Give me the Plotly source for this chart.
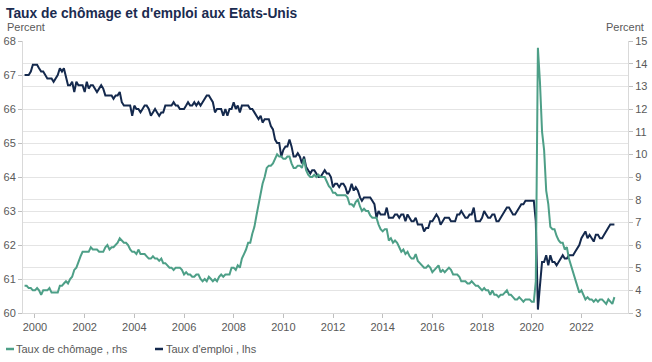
import pandas as pd
import plotly.graph_objects as go

# ---- data (monthly, Aug 1999 - May 2023) ----
start_month = "1999-08-01"

chomage_1999 = [4.2, 4.2, 4.1, 4.1, 4.0]
chomage_2000 = [4.0, 4.1, 4.0, 3.8, 4.0, 4.0, 4.0, 4.1, 3.9, 3.9, 3.9, 3.9]
chomage_2001 = [4.2, 4.2, 4.3, 4.4, 4.3, 4.5, 4.6, 4.9, 5.0, 5.3, 5.5, 5.7]
chomage_2002 = [5.7, 5.7, 5.7, 5.9, 5.8, 5.8, 5.8, 5.7, 5.7, 5.7, 5.9, 6.0]
chomage_2003 = [5.8, 5.9, 5.9, 6.0, 6.1, 6.3, 6.2, 6.1, 6.1, 6.0, 5.8, 5.7]
chomage_2004 = [5.7, 5.6, 5.8, 5.6, 5.6, 5.6, 5.5, 5.4, 5.4, 5.5, 5.4, 5.4]
chomage_2005 = [5.3, 5.4, 5.2, 5.2, 5.1, 5.0, 5.0, 4.9, 5.0, 5.0, 5.0, 4.9]
chomage_2006 = [4.7, 4.8, 4.7, 4.7, 4.6, 4.6, 4.7, 4.7, 4.5, 4.4, 4.5, 4.4]
chomage_2007 = [4.6, 4.5, 4.4, 4.5, 4.4, 4.6, 4.7, 4.6, 4.7, 4.7, 4.7, 5.0]
chomage_2008 = [5.0, 4.9, 5.1, 5.0, 5.4, 5.6, 5.8, 6.1, 6.1, 6.5, 6.8, 7.3]
chomage_2009 = [7.8, 8.3, 8.7, 9.0, 9.4, 9.5, 9.5, 9.6, 9.8, 10.0, 9.9, 9.9]
chomage_2010 = [9.8, 9.8, 9.9, 9.9, 9.6, 9.4, 9.4, 9.5, 9.5, 9.4, 9.8, 9.3]
chomage_2011 = [9.1, 9.0, 9.0, 9.1, 9.0, 9.1, 9.0, 9.0, 9.0, 8.8, 8.6, 8.5]
chomage_2012 = [8.3, 8.3, 8.2, 8.2, 8.2, 8.2, 8.2, 8.1, 7.8, 7.8, 7.7, 7.9]
chomage_2013 = [8.0, 7.7, 7.5, 7.6, 7.5, 7.5, 7.3, 7.2, 7.2, 7.2, 6.9, 6.7]
chomage_2014 = [6.6, 6.7, 6.7, 6.2, 6.3, 6.1, 6.2, 6.1, 5.9, 5.7, 5.8, 5.6]
chomage_2015 = [5.7, 5.5, 5.4, 5.4, 5.6, 5.3, 5.2, 5.1, 5.0, 5.0, 5.1, 5.0]
chomage_2016 = [4.8, 4.9, 5.0, 5.1, 4.8, 4.9, 4.8, 4.9, 5.0, 4.9, 4.7, 4.7]
chomage_2017 = [4.7, 4.6, 4.4, 4.4, 4.4, 4.3, 4.3, 4.4, 4.3, 4.2, 4.2, 4.1]
chomage_2018 = [4.0, 4.1, 4.0, 4.0, 3.8, 4.0, 3.8, 3.8, 3.7, 3.8, 3.8, 3.9]
chomage_2019 = [4.0, 3.8, 3.8, 3.7, 3.6, 3.6, 3.7, 3.6, 3.5, 3.6, 3.6, 3.6]
chomage_2020 = [3.5, 3.5, 4.4, 14.7, 13.2, 11.0, 10.2, 8.4, 7.8, 6.8, 6.7, 6.7]
chomage_2021 = [6.4, 6.2, 6.1, 6.1, 5.8, 5.9, 5.4, 5.1, 4.7, 4.5, 4.2, 3.9]
chomage_2022 = [4.0, 3.8, 3.6, 3.7, 3.6, 3.6, 3.5, 3.6, 3.5, 3.6, 3.6, 3.5]
chomage_2023 = [3.4, 3.6, 3.5, 3.4, 3.7]

emploi_1999 = [67.0, 67.0, 67.0, 67.1, 67.3]
emploi_2000 = [67.3, 67.3, 67.2, 67.1, 67.1, 67.0, 66.9, 66.9, 66.9, 66.8, 66.9, 67.0]
emploi_2001 = [67.2, 67.1, 67.2, 66.9, 66.7, 66.7, 66.8, 66.5, 66.8, 66.7, 66.7, 66.7]
emploi_2002 = [66.5, 66.8, 66.6, 66.7, 66.7, 66.6, 66.5, 66.6, 66.7, 66.6, 66.4, 66.4]
emploi_2003 = [66.4, 66.4, 66.3, 66.4, 66.4, 66.5, 66.2, 66.1, 66.1, 66.1, 66.1, 65.8]
emploi_2004 = [66.1, 66.0, 66.0, 65.9, 66.0, 66.1, 66.1, 66.0, 65.8, 65.9, 66.0, 65.9]
emploi_2005 = [65.8, 65.9, 65.9, 66.1, 66.1, 66.1, 66.1, 66.2, 66.1, 66.1, 66.0, 66.0]
emploi_2006 = [66.0, 66.1, 66.2, 66.1, 66.1, 66.2, 66.1, 66.2, 66.1, 66.2, 66.3, 66.4]
emploi_2007 = [66.4, 66.3, 66.2, 65.9, 66.0, 66.0, 66.0, 65.8, 66.0, 65.8, 66.0, 66.0]
emploi_2008 = [66.2, 66.0, 66.1, 65.9, 66.1, 66.1, 66.1, 66.1, 66.0, 66.0, 65.9, 65.8]
emploi_2009 = [65.7, 65.8, 65.6, 65.7, 65.7, 65.7, 65.5, 65.4, 65.1, 65.0, 65.0, 64.6]
emploi_2010 = [64.8, 64.9, 64.9, 65.1, 64.9, 64.6, 64.6, 64.7, 64.6, 64.4, 64.6, 64.3]
emploi_2011 = [64.2, 64.1, 64.2, 64.2, 64.1, 64.0, 64.0, 64.1, 64.2, 64.1, 64.1, 64.0]
emploi_2012 = [63.7, 63.8, 63.8, 63.7, 63.8, 63.8, 63.7, 63.5, 63.6, 63.8, 63.6, 63.7]
emploi_2013 = [63.6, 63.4, 63.3, 63.4, 63.4, 63.4, 63.4, 63.3, 63.2, 62.8, 63.0, 62.9]
emploi_2014 = [62.9, 62.9, 63.1, 62.8, 62.8, 62.8, 62.9, 62.9, 62.8, 62.9, 62.9, 62.7]
emploi_2015 = [62.9, 62.8, 62.7, 62.7, 62.8, 62.6, 62.6, 62.6, 62.4, 62.5, 62.5, 62.7]
emploi_2016 = [62.7, 62.8, 62.9, 62.8, 62.6, 62.7, 62.8, 62.8, 62.8, 62.7, 62.7, 62.7]
emploi_2017 = [62.9, 62.9, 63.0, 62.9, 62.8, 62.8, 62.9, 62.9, 63.1, 62.7, 62.7, 62.7]
emploi_2018 = [62.8, 63.0, 62.9, 62.8, 62.8, 62.9, 62.9, 62.7, 62.7, 62.8, 62.9, 63.0]
emploi_2019 = [63.1, 63.1, 63.0, 62.9, 62.9, 63.0, 63.1, 63.2, 63.2, 63.3, 63.3, 63.3]
emploi_2020 = [63.3, 63.3, 62.7, 60.1, 60.8, 61.5, 61.5, 61.7, 61.4, 61.7, 61.5, 61.5]
emploi_2021 = [61.4, 61.5, 61.6, 61.7, 61.6, 61.6, 61.7, 61.7, 61.7, 61.8, 61.9, 62.0]
emploi_2022 = [62.2, 62.3, 62.4, 62.2, 62.3, 62.2, 62.1, 62.3, 62.3, 62.2, 62.2, 62.3]
emploi_2023 = [62.4, 62.5, 62.6, 62.6, 62.6]

tick_years = [2000, 2002, 2004, 2006, 2008, 2010, 2012, 2014, 2016, 2018, 2020, 2022]

chomage = (chomage_1999 + chomage_2000 + chomage_2001 + chomage_2002 + chomage_2003 + chomage_2004
           + chomage_2005 + chomage_2006 + chomage_2007 + chomage_2008 + chomage_2009 + chomage_2010
           + chomage_2011 + chomage_2012 + chomage_2013 + chomage_2014 + chomage_2015 + chomage_2016
           + chomage_2017 + chomage_2018 + chomage_2019 + chomage_2020 + chomage_2021 + chomage_2022
           + chomage_2023)
emploi = (emploi_1999 + emploi_2000 + emploi_2001 + emploi_2002 + emploi_2003 + emploi_2004
          + emploi_2005 + emploi_2006 + emploi_2007 + emploi_2008 + emploi_2009 + emploi_2010
          + emploi_2011 + emploi_2012 + emploi_2013 + emploi_2014 + emploi_2015 + emploi_2016
          + emploi_2017 + emploi_2018 + emploi_2019 + emploi_2020 + emploi_2021 + emploi_2022
          + emploi_2023)
dates = pd.date_range(start_month, periods=len(chomage), freq="MS")

GREEN = "#4d9f87"
NAVY = "#14294d"
GRAY = "#595959"
GRID = "#e4e4e4"
FONT = "Liberation Sans, Arial, sans-serif"

W, H = 652, 362
L, R, T, B = 23, 24, 41, 49
pw, ph = W - L - R, H - T - B

def px_x(x):
    return (x - L) / pw

def px_y(y):
    return (H - B - y) / ph

fig = go.Figure()
fig.add_trace(go.Scatter(x=dates, y=emploi, mode="lines", name="Taux d'emploi , lhs",
                         line=dict(color=NAVY, width=2), yaxis="y", showlegend=False))
fig.add_trace(go.Scatter(x=dates, y=chomage, mode="lines", name="Taux de chômage , rhs",
                         line=dict(color=GREEN, width=2), yaxis="y2", showlegend=False))

tick_common = dict(ticks="outside", ticklen=4, tickcolor="#bfbfbf", automargin=False,
                   tickfont=dict(family=FONT, size=11, color=GRAY),
                   showline=True, linecolor="#d9d9d9", linewidth=1, zeroline=False)

fig.update_layout(
    width=W, height=H,
    margin=dict(l=L, r=R, t=T, b=B, autoexpand=False),
    paper_bgcolor="white", plot_bgcolor="white",
    font=dict(family=FONT, size=11, color=GRAY),
    xaxis=dict(type="date", range=["1999-07-09", "2023-11-17"],
               tickvals=[f"{y}-01-01" for y in tick_years],
               ticktext=[str(y) for y in tick_years],
               showgrid=False, **tick_common),
    yaxis=dict(range=[60, 68], dtick=1, showgrid=True, gridcolor=GRID, gridwidth=1,
               side="left", **tick_common),
    yaxis2=dict(range=[3, 15], dtick=1, showgrid=True, gridcolor=GRID, gridwidth=1,
                side="right", overlaying="y", **tick_common),
    showlegend=False,
)

annotations = [
    dict(text="<b>Taux de chômage et d'emploi aux Etats-Unis</b>", xref="paper", yref="paper",
         x=px_x(4), y=px_y(14), xanchor="left", yanchor="middle", showarrow=False,
         font=dict(family=FONT, size=13.8, color="#1b2b50")),
    dict(text="Percent", xref="paper", yref="paper", x=px_x(5), y=px_y(27),
         xanchor="left", yanchor="middle", showarrow=False,
         font=dict(family=FONT, size=11, color=GRAY)),
    dict(text="Percent", xref="paper", yref="paper", x=px_x(646), y=px_y(27),
         xanchor="right", yanchor="middle", showarrow=False,
         font=dict(family=FONT, size=11, color=GRAY)),
    dict(text="Taux de chômage , rhs", xref="paper", yref="paper", x=px_x(14), y=px_y(349),
         xanchor="left", yanchor="middle", showarrow=False,
         font=dict(family=FONT, size=11, color=GRAY)),
    dict(text="Taux d'emploi , lhs", xref="paper", yref="paper", x=px_x(164), y=px_y(349),
         xanchor="left", yanchor="middle", showarrow=False,
         font=dict(family=FONT, size=11, color=GRAY)),
]
shapes = [
    dict(type="line", xref="paper", yref="paper", x0=px_x(6), x1=px_x(14),
         y0=px_y(349), y1=px_y(349), line=dict(color=GREEN, width=2.5)),
    dict(type="line", xref="paper", yref="paper", x0=px_x(155), x1=px_x(163),
         y0=px_y(349), y1=px_y(349), line=dict(color=NAVY, width=2.5)),
]
fig.update_layout(annotations=annotations, shapes=shapes)

fig.write_html("out.html", config={"displayModeBar": False},
               post_script="document.body.style.margin='0px';")
